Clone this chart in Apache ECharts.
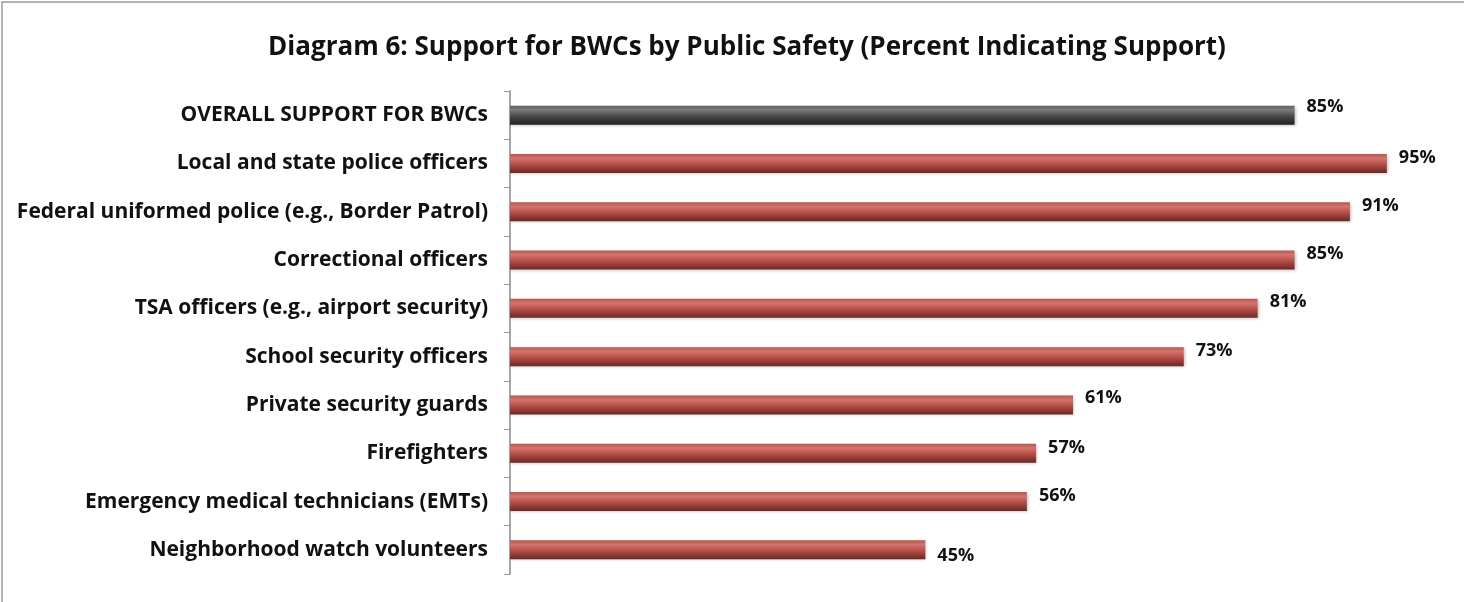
<!DOCTYPE html>
<html>
<head>
<meta charset="utf-8">
<script src="https://cdn.jsdelivr.net/npm/echarts@6/dist/echarts.min.js"></script>
<style>
  html, body { margin: 0; padding: 0; background: #fff; }
  #chart { width: 1464px; height: 602px; }
</style>
</head>
<body>
<div id="chart"></div>
<script>
const categories = [
  "OVERALL SUPPORT FOR BWCs",
  "Local and state police officers",
  "Federal uniformed police (e.g., Border Patrol)",
  "Correctional officers",
  "TSA officers (e.g., airport security)",
  "School security officers",
  "Private security guards",
  "Firefighters",
  "Emergency medical technicians (EMTs)",
  "Neighborhood watch volunteers"
];
const values = [85, 95, 91, 85, 81, 73, 61, 57, 56, 45];
// vertical nudge of each value label, px
const labelShift = [-8, -6, -6, -6, -6, -6, -7, -5, -6, 6];

const redBar = new echarts.graphic.LinearGradient(0, 0, 0, 1, [
  { offset: 0, color: "#b8544e" },
  { offset: 0.22, color: "#d2756d" },
  { offset: 0.55, color: "#b54d47" },
  { offset: 1, color: "#6b2725" }
]);
const greyBar = new echarts.graphic.LinearGradient(0, 0, 0, 1, [
  { offset: 0, color: "#606060" },
  { offset: 0.22, color: "#7c7c7c" },
  { offset: 0.55, color: "#4a4a4a" },
  { offset: 1, color: "#222222" }
]);

const chart = echarts.init(document.getElementById("chart"));

chart.setOption({
  backgroundColor: "#fff",
  animation: false,
  title: {
    text: "Diagram 6: Support for BWCs by Public Safety (Percent Indicating Support)",
    left: 742,
    textAlign: "center",
    top: 30,
    textStyle: { fontFamily: "Open Sans", fontWeight: "bold", fontSize: 26, color: "#111" }
  },
  graphic: [{
    type: "rect",
    shape: { x: 2, y: 2, width: 1480, height: 620 },
    style: { fill: "none", stroke: "#9a9a9a", lineWidth: 1.5 },
    silent: true
  }],
  grid: { left: 510, right: 31, top: 91, bottom: 28 },
  xAxis: {
    type: "value",
    min: 0,
    max: 100,
    show: false
  },
  yAxis: {
    type: "category",
    data: categories,
    inverse: true,
    axisLine: { lineStyle: { color: "#a6a6a6", width: 2 } },
    axisTick: { show: true, length: 6, lineStyle: { color: "#999", width: 1 } },
    axisLabel: {
      margin: 22,
      fontFamily: "Open Sans",
      fontWeight: "bold",
      fontSize: 21,
      color: "#111"
    }
  },
  series: [{
    type: "bar",
    barWidth: 19,
    data: values.map((v, i) => ({
      value: v,
      itemStyle: { color: i === 0 ? greyBar : redBar },
      label: { offset: [0, labelShift[i]] }
    })),
    itemStyle: {
      shadowColor: "rgba(0,0,0,0.25)",
      shadowBlur: 3,
      shadowOffsetX: 1,
      shadowOffsetY: 1
    },
    label: {
      show: true,
      position: "right",
      distance: 12,
      formatter: "{c}%",
      fontFamily: "Open Sans",
      fontWeight: "bold",
      fontSize: 18,
      color: "#111"
    }
  }]
});
</script>
</body>
</html>
